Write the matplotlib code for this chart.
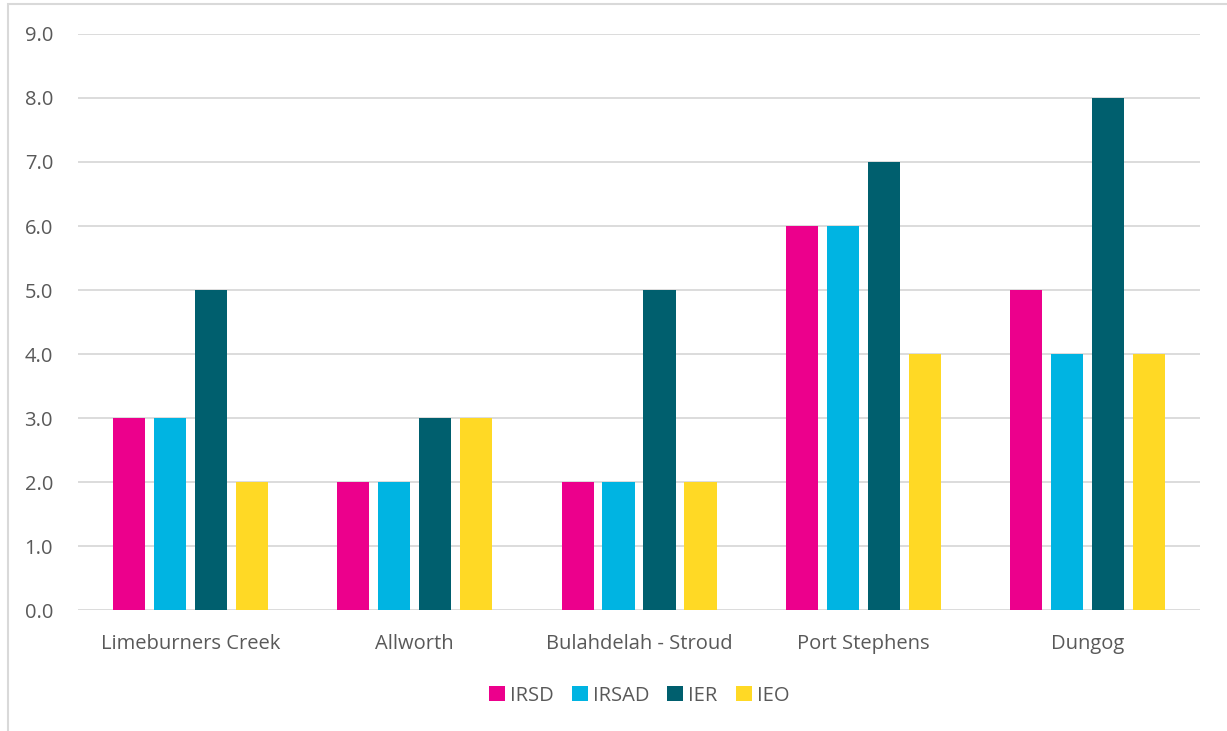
import matplotlib.pyplot as plt
import matplotlib.patches as patches
import numpy as np

plt.rcParams['font.family'] = ['Open Sans', 'DejaVu Sans']

regions = ['Limeburners Creek', 'Allworth', 'Bulahdelah - Stroud', 'Port Stephens', 'Dungog']
irsd = [3, 2, 2, 6, 5]
irsad = [3, 2, 2, 6, 4]
ier = [5, 3, 5, 7, 8]
ieo = [2, 3, 2, 4, 4]

series = [('IRSD', irsd, '#EC008C'), ('IRSAD', irsad, '#00B4E2'),
          ('IER', ier, '#005F6E'), ('IEO', ieo, '#FFD925')]

txt = '#595959'
fig = plt.figure(figsize=(12.27, 7.31), dpi=100)
ax = fig.add_axes([0.0636, 0.1655, 0.9144, 0.788])

# chart border like excel
fig.patches.append(patches.Rectangle((8/1227, -0.05), 1.1, 1 - 4/731 + 0.05, transform=fig.transFigure,
                                     fill=False, edgecolor='#D9D9D9', linewidth=1.5))

x = np.arange(len(regions))
width = 0.143
step = 0.1826
for i, (name, vals, col) in enumerate(series):
    ax.bar(x + (i - 1.5) * step, vals, width, color=col, label=name, zorder=3)

ax.set_xlim(-0.5, len(regions) - 0.5)
ax.set_ylim(0, 9)
ax.set_yticks(np.arange(0, 10, 1))
ax.set_yticklabels(['%.1f' % v for v in np.arange(0, 10, 1)])
ax.set_xticks(x)
ax.set_xticklabels(regions)
ax.grid(axis='y', color='#D9D9D9', linewidth=1.3, zorder=0)
for s in ax.spines.values():
    s.set_visible(False)
ax.tick_params(length=0, labelsize=14.5, colors=txt, pad=18)
ax.tick_params(axis='x', pad=17)

ax.legend(loc='upper center', bbox_to_anchor=(0.5, -0.1), ncol=4, frameon=False,
          fontsize=14.5, labelcolor=txt, handlelength=0.8, handleheight=0.8,
          handletextpad=0.25, columnspacing=0.9)

fig.savefig('out.png', dpi=100, facecolor='white')
